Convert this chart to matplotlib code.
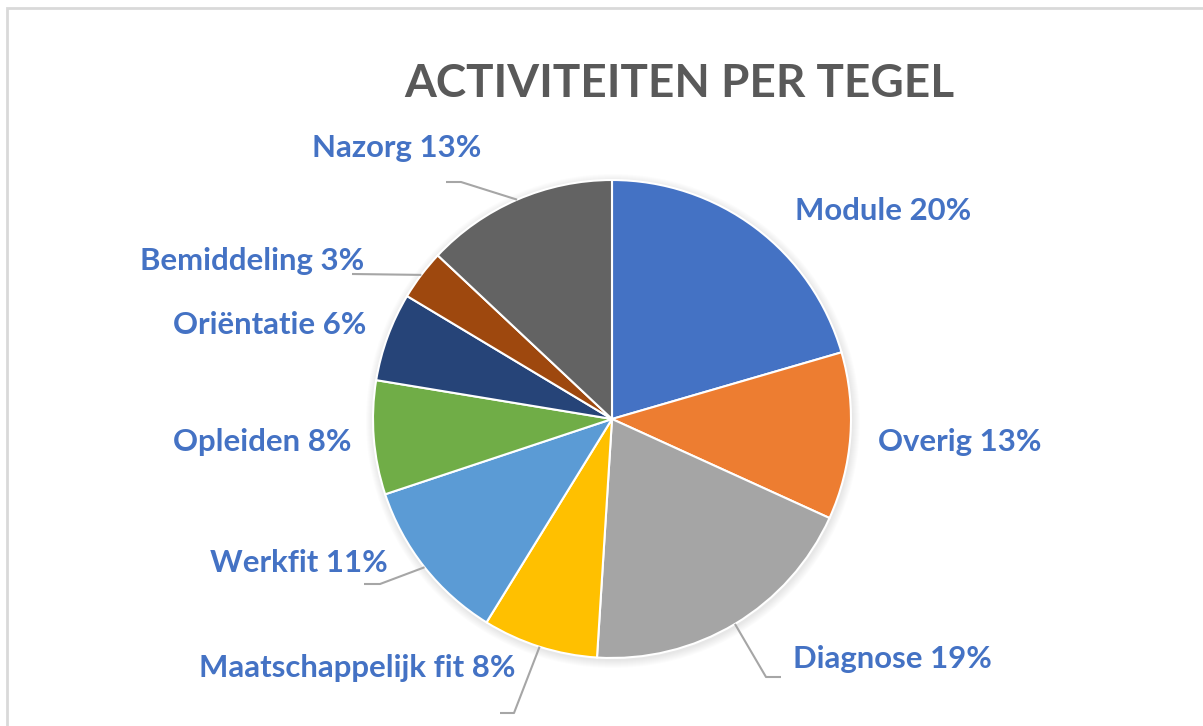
import numpy as np
import matplotlib.pyplot as plt
from matplotlib.patches import Rectangle, Circle

# gegevens van de taartgrafiek (met de klok mee vanaf boven)
categorieen = ["Module", "Overig", "Diagnose", "Maatschappelijk fit", "Werkfit",
               "Opleiden", "Oriëntatie", "Bemiddeling", "Nazorg"]
aandeel = [20.5, 11.3, 19.2, 7.8, 11.1, 7.7, 6.0, 3.4, 13.0]
labels_pct = ["20%", "13%", "19%", "8%", "11%", "8%", "6%", "3%", "13%"]
kleuren = ["#4472C4", "#ED7D31", "#A5A5A5", "#FFC000", "#5B9BD5",
           "#70AD47", "#264478", "#9E480E", "#636363"]

W, H = 1203, 726
fig = plt.figure(figsize=(W / 100, H / 100), dpi=100)
ax = fig.add_axes([0, 0, 1, 1])

# kader rond de grafiek
fig.patches.append(Rectangle((7 / W, -0.1), 1.2, (H - 8) / H + 0.1, transform=fig.transFigure,
                             fill=False, edgecolor="#D9D9D9", linewidth=2))

cx, cy, r = 612, H - 419, 239

# zachte schaduw
for k in range(8, 0, -1):
    ax.add_patch(Circle((cx + 1, cy - 2), r + k, color="#000000", alpha=0.012, lw=0))

wedges, _ = ax.pie(aandeel, colors=kleuren, startangle=90, counterclock=False,
                   center=(cx, cy), radius=r, frame=True,
                   wedgeprops=dict(edgecolor="white", linewidth=1.5))
ax.set_xlim(0, W)
ax.set_ylim(0, H)
ax.set_aspect("equal")
ax.axis("off")

font = "Lato"
ax.text(679, H - 84, "ACTIVITEITEN PER TEGEL", ha="center", va="center",
        fontsize=33, fontweight="bold", color="#595959", family=font)

# positie van elk label (linkerkant, midden) en eventuele verbindingslijn
label_pos = {
    "Module": (795, 211), "Overig": (878, 442), "Diagnose": (793, 659),
    "Maatschappelijk fit": (199, 668), "Werkfit": (210, 563), "Opleiden": (173, 442),
    "Oriëntatie": (173, 325), "Bemiddeling": (140, 261), "Nazorg": (312, 148),
}
leider = {
    "Nazorg": [(446, 182), (461, 182)],
    "Bemiddeling": [(352, 274)],
    "Werkfit": [(364, 584), (380, 584)],
    "Maatschappelijk fit": [(500, 713), (514, 713)],
    "Diagnose": [(781, 677), (766, 677)],
}

for w, naam, pct in zip(wedges, categorieen, labels_pct):
    x, y = label_pos[naam]
    ax.text(x, H - y, f"{naam} {pct}", ha="left", va="center", fontsize=22.4,
            fontweight="bold", color="#4472C4", family=font)
    if naam in leider:
        hoek = np.deg2rad((w.theta1 + w.theta2) / 2)
        ex, ey = cx + r * np.cos(hoek), cy + r * np.sin(hoek)
        pts = [(px, H - py) for px, py in leider[naam]] + [(ex, ey)]
        ax.plot([p[0] for p in pts], [p[1] for p in pts], color="#A6A6A6", lw=1.5,
                solid_capstyle="butt")

fig.savefig("out.png", dpi=100)
